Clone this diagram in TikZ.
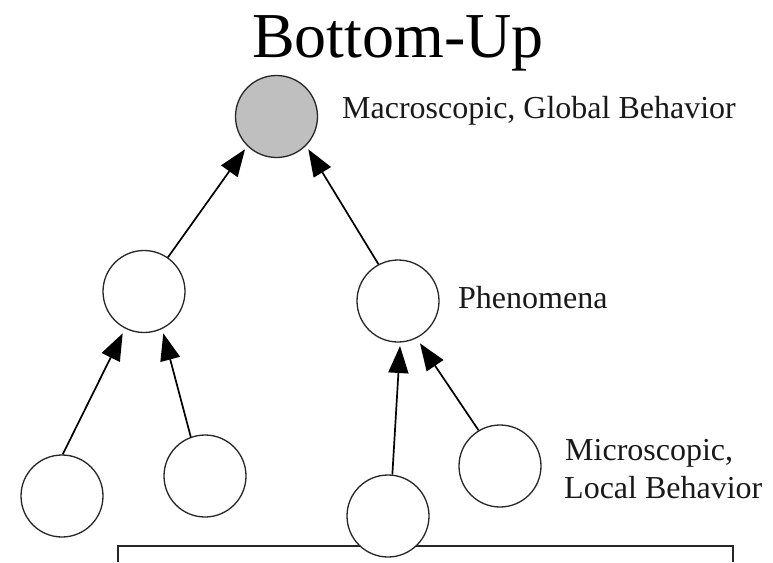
\documentclass[tikz,border=0pt]{standalone}
\usepackage{fontspec}
\setmainfont{Liberation Serif}
\usetikzlibrary{calc,arrows.meta}
\begin{document}
\begin{tikzpicture}[x=1pt,y=-1pt,
  agent/.style={circle,draw=black!85,line width=1.3pt,fill=white,minimum size=82pt,inner sep=0pt},
  global/.style={agent,fill=black!25},
  up/.style={-{Triangle[length=27pt 0 0,width=20pt 0 0]},line width=1.7pt,black},
  lbl/.style={inner sep=0pt,anchor=base west,font=\fontsize{32}{38}\selectfont,text=black!90},
  heading/.style={inner sep=0pt,anchor=base,font=\fontsize{64}{70}\selectfont}]
\useasboundingbox (0,0) rectangle (773,562);

% title
\node[heading] (title) at (398,57) {Bottom-Up};

% base frame under the lowest level
\draw[line width=1.3pt,black!85] (118,562) -- (118,546) -- (733,546) -- (733,562);

% levels of the hierarchy
\node[global] (g)  at (276.5,116.5) {};
\node[agent]  (m1) at (144,291.5) {};
\node[agent]  (m2) at (398,301) {};
\node[agent]  (b1) at (62,496) {};
\node[agent]  (b2) at (205,476) {};
\node[agent]  (b3) at (388,516) {};
\node[agent]  (b4) at (500,466) {};

% labels
\node[lbl] (lg) at (342,118) {Macroscopic, Global Behavior};
\node[lbl] (lm) at (458,308) {Phenomena};
\node[lbl] (lb1) at (565,460) {Microscopic,};
\node[lbl] (lb2) at (564,498) {Local Behavior};

% upward influence
\draw[up] (m1.55)    -- ($(g)+(-31.5,32.8)$);
\draw[up] (m2.118.7) -- ($(g)+(31.8,32.8)$);
\draw[up] (b1.89)    -- ($(m1)+(-21.3,41.8)$);
\draw[up] (b2.110.6) -- ($(m1)+(19.3,41.8)$);
\draw[up] (b3.84.8)  -- ($(m2)+(2,45)$);
\draw[up] (b4.121.6) -- ($(m2)+(22,42.3)$);
\end{tikzpicture}
\end{document}
